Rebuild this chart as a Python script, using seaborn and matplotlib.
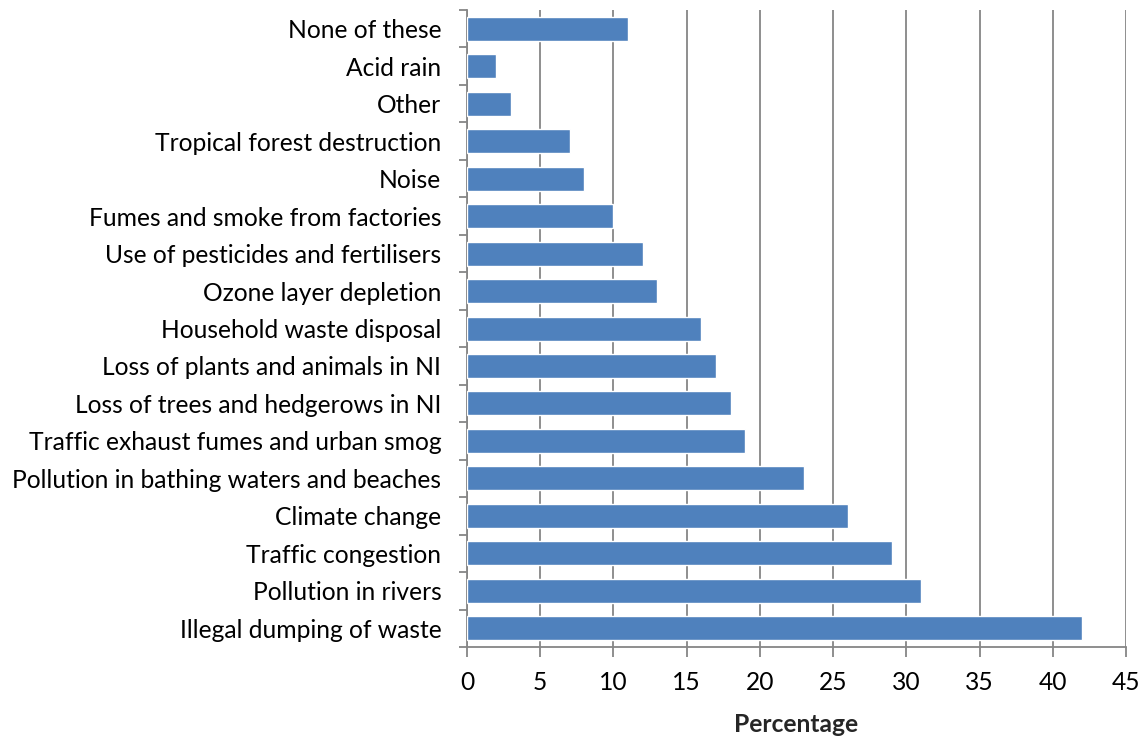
import matplotlib
matplotlib.use("Agg")
import matplotlib.pyplot as plt
import seaborn as sns
import pandas as pd
from matplotlib.ticker import FixedLocator

categories = [
    "None of these", "Acid rain", "Other", "Tropical forest destruction", "Noise",
    "Fumes and smoke from factories", "Use of pesticides and fertilisers",
    "Ozone layer depletion", "Household waste disposal",
    "Loss of plants and animals in NI", "Loss of trees and hedgerows in NI",
    "Traffic exhaust fumes and urban smog", "Pollution in bathing waters and beaches",
    "Climate change", "Traffic congestion", "Pollution in rivers",
    "Illegal dumping of waste",
]
values = [11, 2, 3, 7, 8, 10, 12, 13, 16, 17, 18, 19, 23, 26, 29, 31, 42]
xticks = [0, 5, 10, 15, 20, 25, 30, 35, 40, 45]

sns.set_theme(style="white")
plt.rcParams['font.family'] = ['Lato', 'DejaVu Sans']

df = pd.DataFrame({"cat": categories, "val": values})
fig = plt.figure(figsize=(11.43, 7.36), dpi=100)
ax = fig.add_axes([0.4086, 0.1209, 0.9851 - 0.4086, 0.9864 - 0.1209])
sns.barplot(data=df, y="cat", x="val", order=categories, orient="h",
            color="#4F81BD", saturation=1, width=0.64, ax=ax, zorder=3)
ax.set_xlim(0, 45)
ax.set_ylim(len(categories) - 0.5, -0.5)
ax.set_xticks(xticks)
ax.set_xticklabels([str(t) for t in xticks])
ax.grid(axis="x", color="#868686", linewidth=1.3, zorder=0)
ax.set_axisbelow(True)
for s in ["top", "right"]:
    ax.spines[s].set_visible(False)
for s in ["left", "bottom"]:
    ax.spines[s].set_color("#868686")
    ax.spines[s].set_linewidth(1.3)
ax.yaxis.set_minor_locator(FixedLocator([i - 0.5 for i in range(len(categories) + 1)]))
ax.tick_params(axis="y", which="major", length=0, labelsize=17.7, pad=18.5, labelcolor="black")
ax.tick_params(axis="y", which="minor", left=True, length=6, width=1.3, color="#868686")
ax.tick_params(axis="x", which="major", bottom=True, length=7, width=1.3, color="#868686",
               labelsize=17.7, pad=10, labelcolor="black")
ax.set_ylabel("")
ax.set_xlabel("Percentage", fontsize=17.7, fontweight="bold", labelpad=14)
fig.savefig("out.png", dpi=100)
